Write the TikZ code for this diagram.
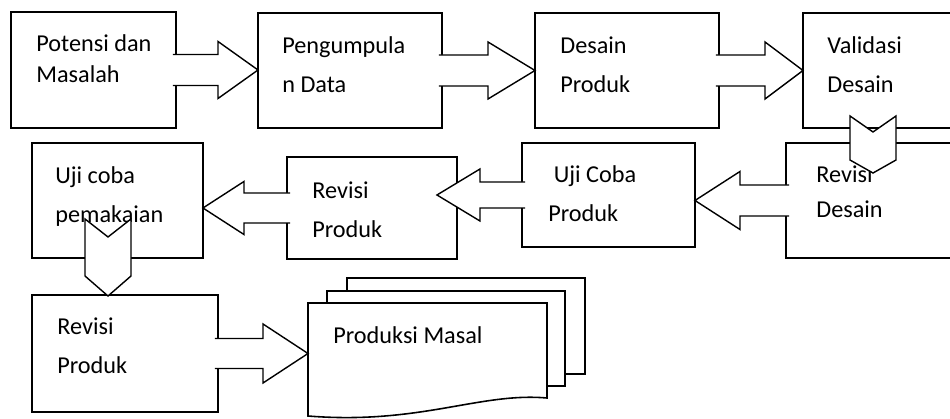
\documentclass[tikz,border=0pt]{standalone}
\usepackage{fontspec}
\setmainfont{Carlito}
\usetikzlibrary{calc}

% block arrow: tail, tip, shaft half width, head half width, head length (px)
\newcommand{\blockarrow}[5]{%
  \coordinate (ba-p) at (#2);
  \coordinate (ba-t) at ($(#1)!-3*0.02cm!(ba-p)$);
  \coordinate (ba-h) at ($(ba-p)!#5*0.02cm!(ba-t)$);
  \filldraw[arrowline] ($(ba-t)!#3*0.02cm!90:(ba-p)$) -- ($(ba-h)!#3*0.02cm!90:(ba-p)$)
    -- ($(ba-h)!#4*0.02cm!90:(ba-p)$) -- (ba-p) -- ($(ba-h)!#4*0.02cm!-90:(ba-p)$)
    -- ($(ba-h)!#3*0.02cm!-90:(ba-p)$) -- ($(ba-t)!#3*0.02cm!-90:(ba-p)$);
}
% notched chevron: tail, tip, half width, notch depth, head length (px)
\newcommand{\chevronarrow}[5]{%
  \coordinate (ch-p) at (#2);
  \coordinate (ch-t) at (#1);
  \coordinate (ch-n) at ($(ch-t)!#4*0.02cm!(ch-p)$);
  \coordinate (ch-h) at ($(ch-p)!#5*0.02cm!(ch-t)$);
  \filldraw[arrowline] ($(ch-t)!#3*0.02cm!90:(ch-p)$) -- (ch-n) -- ($(ch-t)!#3*0.02cm!-90:(ch-p)$)
    -- ($(ch-h)!#3*0.02cm!-90:(ch-p)$) -- (ch-p) -- ($(ch-h)!#3*0.02cm!90:(ch-p)$) -- cycle;
}

\begin{document}
\begin{tikzpicture}[x=0.02cm, y=-0.02cm,
    box/.style={draw=black, line width=1.1pt, rectangle, anchor=north west, inner sep=0pt, outer sep=0pt},
    txt/.style={anchor=base west, align=left, inner sep=0pt, font=\fontsize{13.8}{21.9}\selectfont},
    arrowline/.style={draw=black, fill=white, line width=0.8pt, line join=miter},
    doc/.style={draw=black, fill=white, line width=0.9pt}]
  \clip (0,0) rectangle (950,419);
  % first row
  \node[box, minimum width=3.30cm, minimum height=2.32cm] (pot) at (11,12) {};
  \node[box, minimum width=3.68cm, minimum height=2.30cm] (kumpul) at (258,13) {};
  \node[box, minimum width=3.68cm, minimum height=2.30cm] (desain) at (535,13) {};
  \node[box, minimum width=3.40cm, minimum height=2.30cm] (valid) at (803,13) {};
  % second row
  \node[box, minimum width=3.60cm, minimum height=2.30cm] (revdes) at (786,143) {};
  \node[box, minimum width=3.46cm, minimum height=2.08cm] (ujiprod) at (522,143) {};
  \node[box, minimum width=3.40cm, minimum height=2.04cm] (revprod) at (287,157) {};
  \node[box, minimum width=3.42cm, minimum height=2.30cm] (ujipakai) at (32,143) {};
  % third row
  \node[box, minimum width=3.72cm, minimum height=2.34cm] (revprod2) at (32,295) {};
  \draw[doc] (347,278) rectangle (585,374);
  \draw[doc] (327,291) rectangle (565,386);
  \coordinate (massal) at (308,303);
  \draw[doc] (massal) -- (547,303) -- (547,398) .. controls (480,392) and (420,425) .. (308,416) -- cycle;
  % texts, placed at the baseline of their last line
  \node[txt, font=\fontsize{13.8}{17.6}\selectfont] (pot-t) at (36,82) {Potensi dan\\Masalah};
  \node[txt] (kumpul-t) at (282,92) {Pengumpula\\n Data};
  \node[txt] (desain-t) at (560,92) {Desain\\Produk};
  \node[txt] (valid-t) at (827,92) {Validasi\\Desain};
  \node[txt, font=\fontsize{13.8}{19.9}\selectfont] (revdes-t) at (816,217) {Revisi\\Desain};
  \node[txt] (ujiprod-t) at (548,221) {\ Uji Coba\\Produk};
  \node[txt] (revprod-t) at (312,237) {Revisi\\Produk};
  \node[txt] (ujipakai-t) at (55,222) {Uji coba\\pemakaian};
  \node[txt] (revprod2-t) at (57,373) {Revisi\\Produk};
  \node[txt] (massal-t) at (333,343) {Produksi Masal};
  %
  \blockarrow{pot.east}{kumpul.west |- pot.east}{15.5}{28.5}{40}
  \blockarrow{kumpul.east}{desain.west |- kumpul.east}{15.5}{28.5}{47}
  \blockarrow{desain.east}{valid.west |- desain.east}{15.5}{28.5}{38}
  \blockarrow{revdes.west}{ujiprod.east |- revdes.west}{15.5}{29}{45}
  \blockarrow{ujiprod.west}{$(revprod.east |- ujiprod.west)+(-20,0)$}{13}{26}{43}
  \blockarrow{revprod.west}{ujipakai.east |- revprod.west}{15}{26.5}{41}
  \blockarrow{revprod2.east}{massal |- revprod2.east}{15}{29.5}{45}
  %
  \coordinate (c1t) at ($(valid.south west)+(70,-12)$);
  \chevronarrow{c1t}{$(c1t |- revdes.north)+(0,30)$}{23}{16}{13}
  \coordinate (c2t) at ($(ujipakai.south west)+(76,-39)$);
  \chevronarrow{c2t}{$(c2t |- revprod2.north)+(0,1)$}{23}{18}{20}
\end{tikzpicture}
\end{document}
